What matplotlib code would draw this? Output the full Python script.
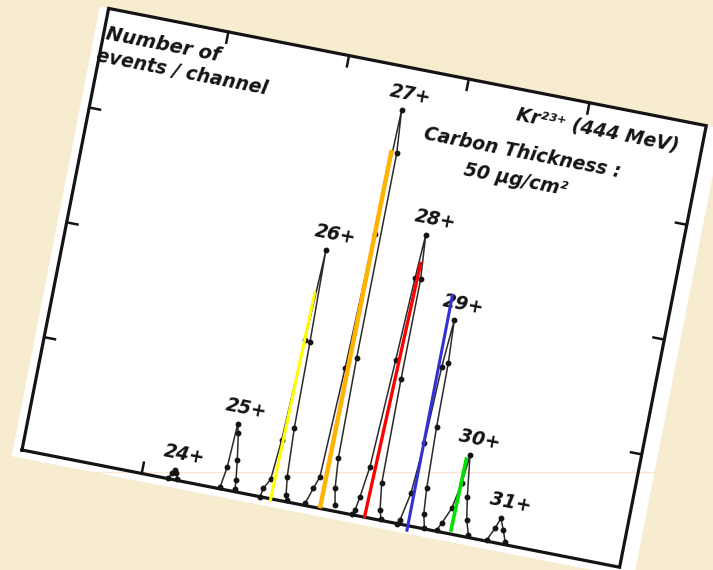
import matplotlib

matplotlib.use("Agg")
import matplotlib.pyplot as plt
import matplotlib.transforms as mtransforms
import numpy as np
from matplotlib.patches import Polygon

# scanned chart: frame is tilted clockwise on the page
TILT_DEG = 11.1
ORIGIN_PX = (22, 450)  # bottom-left corner of the frame in the scan
FRAME_W, FRAME_H = 609, 450

top_ticks = [122, 245, 367, 490]
bottom_ticks = [122]
side_ticks = [115, 232, 349]

# peaks: channel (u) vs events/channel (v), left foot -> apex -> right foot
charges = ["24+", "25+", "26+", "27+", "28+", "29+", "30+", "31+"]

p24_u = [149.0, 151.5, 154.0, 156.0, 158.0]
p24_v = [0.5, 6.0, 9.9, 7.0, 1.1]
p25_u = [201.5, 204.7, 206.7, 209.1, 213.2, 215.8, 216.6]
p25_v = [1.5, 23.1, 67.0, 58.0, 31.6, 11.8, 2.4]
p26_u = [242.6, 244.2, 249.7, 252.9, 256.5, 259.8, 261.8, 263.0, 265.4, 267.8, 269.4]
p26_v = [0.0, 8.8, 19.1, 59.8, 162.4, 254.8, 161.7, 73.7, 24.9, 6.6, 1.9]
p27_u = [288.0, 293.3, 297.5, 301.3, 304.4, 307.1, 310.6, 310.7, 312.0, 314.6, 317.8]
p27_v = [2.2, 18.5, 31.2, 142.4, 280.0, 406.7, 363.2, 154.4, 52.8, 22.7, 6.3]
p28_u = [336.5, 338.4, 340.7, 344.7, 349.4, 352.6, 354.8, 358.3, 358.3, 359.4, 362.9, 365.6]
p28_v = [0.5, 5.2, 19.3, 50.6, 160.2, 244.2, 288.7, 244.2, 142.4, 36.5, 10.0, 1.4]
p29_u = [382.5, 384.4, 390.0, 393.5, 395.9, 399.2, 401.6, 402.4, 404.5, 406.5, 410.0]
p29_v = [0.0, 4.1, 32.4, 84.0, 162.5, 210.8, 167.2, 102.7, 40.3, 15.0, 0.5]
p30_u = [422.3, 426.0, 432.9, 437.9, 440.6, 446.0, 449.9, 454.4]
p30_v = [1.3, 8.9, 25.5, 51.9, 81.3, 39.9, 16.9, 2.5]
p31_u = [473.3, 479.3, 483.1, 487.7, 491.7]
p31_v = [1.2, 14.3, 25.2, 14.2, 3.0]

peaks_u = [p24_u, p25_u, p26_u, p27_u, p28_u, p29_u, p30_u, p31_u]
peaks_v = [p24_v, p25_v, p26_v, p27_v, p28_v, p29_v, p30_v, p31_v]

# coloured guide lines drawn over the scan
guide_colors = ["#ffff00", "#ffb300", "#ff0000", "#3232d2", "#00e000"]
guide_u0 = [253.4, 303.6, 349.0, 393.2, 436.4]
guide_v0 = [-3.0, 0.2, -1.1, -6.1, 2.3]
guide_u1 = [257.0, 305.0, 355.3, 392.6, 437.8]
guide_v1 = [211.7, 365.6, 261.6, 236.0, 78.4]
guide_widths = [2.2, 3.2, 2.4, 2.2, 2.6]


def chart_transform(ax):
    t = np.deg2rad(TILT_DEG)
    c, s = np.cos(t), np.sin(t)
    m = np.array([[c, s, ORIGIN_PX[0]], [s, -c, ORIGIN_PX[1]], [0.0, 0.0, 1.0]])
    return mtransforms.Affine2D(m) + ax.transData


fig = plt.figure(figsize=(7.13, 5.70), dpi=100)
fig.patch.set_facecolor("#f7ebd0")
ax = fig.add_axes([0, 0, 1, 1])
ax.set_xlim(0, 713)
ax.set_ylim(570, 0)
ax.axis("off")
tf = chart_transform(ax)

paper = Polygon([(-9, -8), (625, -8), (625, FRAME_H), (-9, FRAME_H)],
                closed=True, facecolor="white", edgecolor="none", transform=tf, zorder=1)
ax.add_patch(paper)

ink = "#141414"
frame_u = [0, FRAME_W, FRAME_W, 0, 0]
frame_v = [0, 0, FRAME_H, FRAME_H, 0]
ax.plot(frame_u, frame_v, color=ink, lw=2.3, transform=tf, zorder=4, solid_joinstyle="miter")

tick_len = 11
for u in top_ticks:
    ax.plot([u, u], [FRAME_H, FRAME_H - tick_len], color=ink, lw=1.8, transform=tf, zorder=4)
for u in bottom_ticks:
    ax.plot([u, u], [0, tick_len], color=ink, lw=1.8, transform=tf, zorder=4)
for v in side_ticks:
    ax.plot([0, tick_len], [v, v], color=ink, lw=1.8, transform=tf, zorder=4)
    ax.plot([FRAME_W, FRAME_W - tick_len], [v, v], color=ink, lw=1.8, transform=tf, zorder=4)

font = dict(family="DejaVu Sans", style="oblique", weight="bold", color=ink,
            rotation=-TILT_DEG, rotation_mode="anchor", ha="center", va="center")

for us, vs, name in zip(peaks_u, peaks_v, charges):
    ax.plot(us, vs, color="#2a2a2a", lw=1.1, marker="o", ms=3.2,
            mfc=ink, mec=ink, transform=tf, zorder=3)
    k = int(np.argmax(vs))
    ax.text(us[k] + 6, vs[k] + 17, name, fontsize=13.5, transform=tf, zorder=5, **font)

for c, ua, va, ub, vb, w in zip(guide_colors, guide_u0, guide_v0, guide_u1, guide_v1, guide_widths):
    ax.plot([ua, ub], [va, vb], color=c, lw=w, transform=tf, zorder=6, solid_capstyle="butt")

ax.text(60, 425, "Number of", fontsize=14, transform=tf, zorder=5, **font)
ax.text(84, 401, "events / channel", fontsize=13.5, transform=tf, zorder=5, **font)
ax.text(503, 425, "Kr\u00b2\u00b3\u207a (444 MeV)", fontsize=13.5, transform=tf, zorder=5, **font)
ax.text(434, 388, "Carbon Thickness :", fontsize=13.5, transform=tf, zorder=5, **font)
ax.text(432, 360, "50 \u03bcg/cm\u00b2", fontsize=13.5, transform=tf, zorder=5, **font)

# faint scanner streak
ax.axhline(472, color="#fbe6cf", lw=0.9, zorder=2)

fig.savefig("out.png", dpi=100, facecolor=fig.get_facecolor())
